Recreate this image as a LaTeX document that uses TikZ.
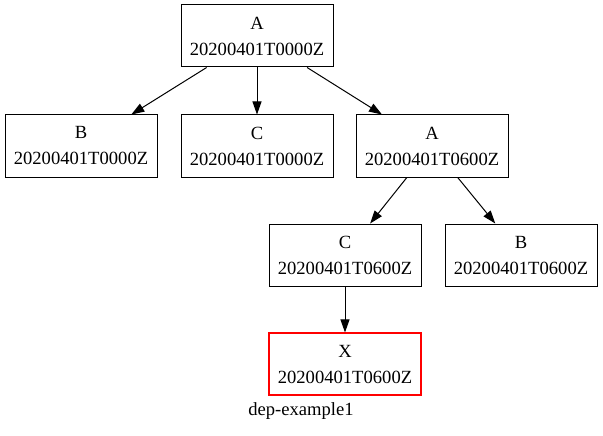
\documentclass[tikz,border=0pt]{standalone}
\usepackage{fontspec}
\setmainfont{Liberation Serif}
\usetikzlibrary{arrows.meta,positioning}
\definecolor{gvRed}{RGB}{255,0,0}

\begin{document}
\begin{tikzpicture}[x=1pt,y=-1pt,
      font=\fontsize{18.6}{23}\selectfont,
      task/.style={draw,line width=1pt,minimum width=152pt,minimum height=62pt,
                   inner sep=0pt,align=center},
      dep/.style={-{Triangle[length=13pt,width=9pt]},line width=1pt}]
    \useasboundingbox (0,0) rectangle (603,436);

    % first cycle point
    \node[task] (a0) at (257,36) {A\\[3pt]20200401T0000Z};
    \node[task] (b0) at (81,146) {B\\[3pt]20200401T0000Z};
    \node[task] (c0) at (257,146) {C\\[3pt]20200401T0000Z};

    % second cycle point
    \node[task] (a6) at (432,146) {A\\[3pt]20200401T0600Z};
    \node[task] (c6) at (345,255) {C\\[3pt]20200401T0600Z};
    \node[task] (b6) at (521,255) {B\\[3pt]20200401T0600Z};
    \node[task,draw=gvRed,line width=1.1pt] (x6) at (345,364) {X\\[3pt]20200401T0600Z};

    \foreach \a/\b in {a0/b0,a0/c0,a0/a6,a6/c6,a6/b6,c6/x6}
      \draw[dep] (\a) -- (\b);

    \node (title) at (301,411) {dep-example1};
  \end{tikzpicture}
\end{document}
